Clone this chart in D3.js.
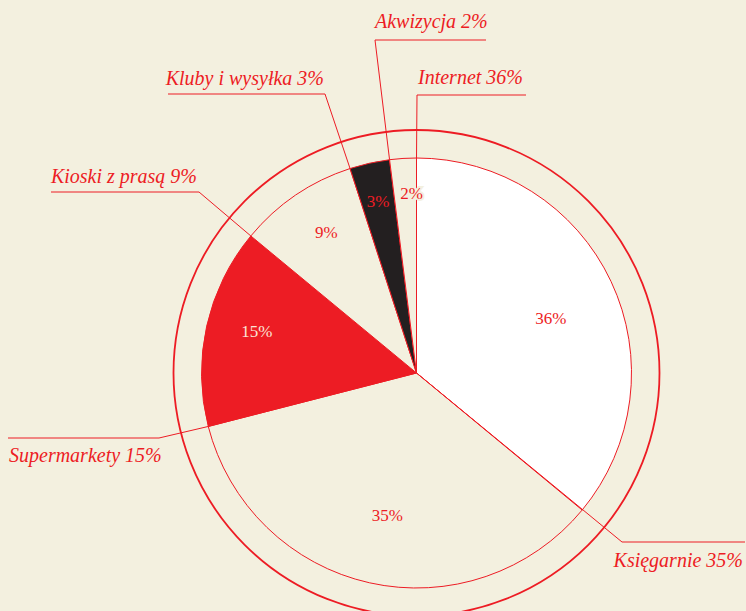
<!DOCTYPE html>
<html lang="pl">
<head>
<meta charset="UTF-8">
<title>Kanały sprzedaży książek</title>
<style>
    body { margin: 0; background: #f3f0df; }
    svg { display: block; }
    .outer-label {
        font-family: "Liberation Serif", serif;
        font-style: italic;
        font-size: 20px;
        fill: #ed1c24;
    }
    .inner-label {
        font-family: "Liberation Serif", serif;
        font-size: 17px;
    }
</style>
</head>
<body>
<svg width="746" height="611"></svg>
<script src="https://d3js.org/d3.v7.min.js"></script>
<script>
    // dane
    const categories = ["Internet", "Księgarnie", "Supermarkety", "Kioski z prasą", "Kluby i wysyłka", "Akwizycja"];
    const values = [36, 35, 15, 9, 3, 2];

    const width = 746, height = 611;
    const cx = 416.5, cy = 373;
    const radius = 215, ringRadius = 243;
    const red = "#ed1c24", bg = "#f3f0df", black = "#231f20";
    const fills = ["#ffffff", bg, red, bg, black, bg];
    const labelColors = [red, red, "#fbe3d6", red, red, red];
    const labelRadius = [145, 145, 165, 167, 176, 180];
    const labelShift = [3, -1, 2, 1.5, 0, 2]; // degrees, small nudges

    // leader lines: which slice edge they start from, elbow, end of underline, text placement
    const leaders = [
        { edge: 0, r: radius, elbow: [417, 95], end: 526, tx: 418, ty: 84, anchor: "start" },
        { edge: 1, r: 0, elbow: [622, 542], end: 745, tx: 743, ty: 567, anchor: "end" },
        { edge: 2, r: radius, elbow: [159, 438], end: 8, tx: 9, ty: 462, anchor: "start" },
        { edge: 3, r: radius, elbow: [199, 192], end: 51, tx: 197, ty: 183, anchor: "end" },
        { edge: 4, r: radius, elbow: [325, 94], end: 168, tx: 324, ty: 85, anchor: "end" },
        { edge: 5, r: radius, elbow: [375, 40], end: 486, tx: 375, ty: 28, anchor: "start" }
    ];

    const svg = d3.select("svg");

    svg.append("rect")
        .attr("width", width)
        .attr("height", height)
        .attr("fill", bg);

    const g = svg.append("g").attr("transform", `translate(${cx},${cy})`);

    const pie = d3.pie().sort(null).value(d => d)(values);
    const arc = d3.arc().innerRadius(0).outerRadius(radius);

    g.append("circle")
        .attr("r", ringRadius)
        .attr("fill", "none")
        .attr("stroke", red)
        .attr("stroke-width", 1.8);

    g.selectAll("path.slice")
        .data(pie)
        .join("path")
        .attr("class", "slice")
        .attr("d", arc)
        .attr("fill", (d, i) => fills[i])
        .attr("stroke", red)
        .attr("stroke-width", 1);

    const pt = (angle, r) => [cx + r * Math.sin(angle), cy - r * Math.cos(angle)];

    // leader lines
    leaders.forEach(l => {
        const p0 = pt(pie[l.edge].startAngle, l.r);
        svg.append("polyline")
            .attr("points", [p0, l.elbow, [l.end, l.elbow[1]]].map(p => p.join(",")).join(" "))
            .attr("fill", "none")
            .attr("stroke", red)
            .attr("stroke-width", 1);

        svg.append("text")
            .attr("class", "outer-label")
            .attr("x", l.tx)
            .attr("y", l.ty)
            .attr("text-anchor", l.anchor)
            .text(`${categories[l.edge]} ${values[l.edge]}%`);
    });

    // percentages inside the slices
    g.selectAll("text.inner-label")
        .data(pie)
        .join("text")
        .attr("class", "inner-label")
        .attr("transform", (d, i) => {
            const a = (d.startAngle + d.endAngle) / 2 + labelShift[i] * Math.PI / 180;
            return `translate(${labelRadius[i] * Math.sin(a)},${-labelRadius[i] * Math.cos(a)})`;
        })
        .attr("text-anchor", "middle")
        .attr("dy", "0.35em")
        .attr("fill", (d, i) => labelColors[i])
        .attr("stroke", (d, i) => fills[i] === bg ? bg : "none")
        .attr("stroke-width", 4)
        .attr("paint-order", "stroke")
        .text(d => d.data + "%");
</script>
</body>
</html>
